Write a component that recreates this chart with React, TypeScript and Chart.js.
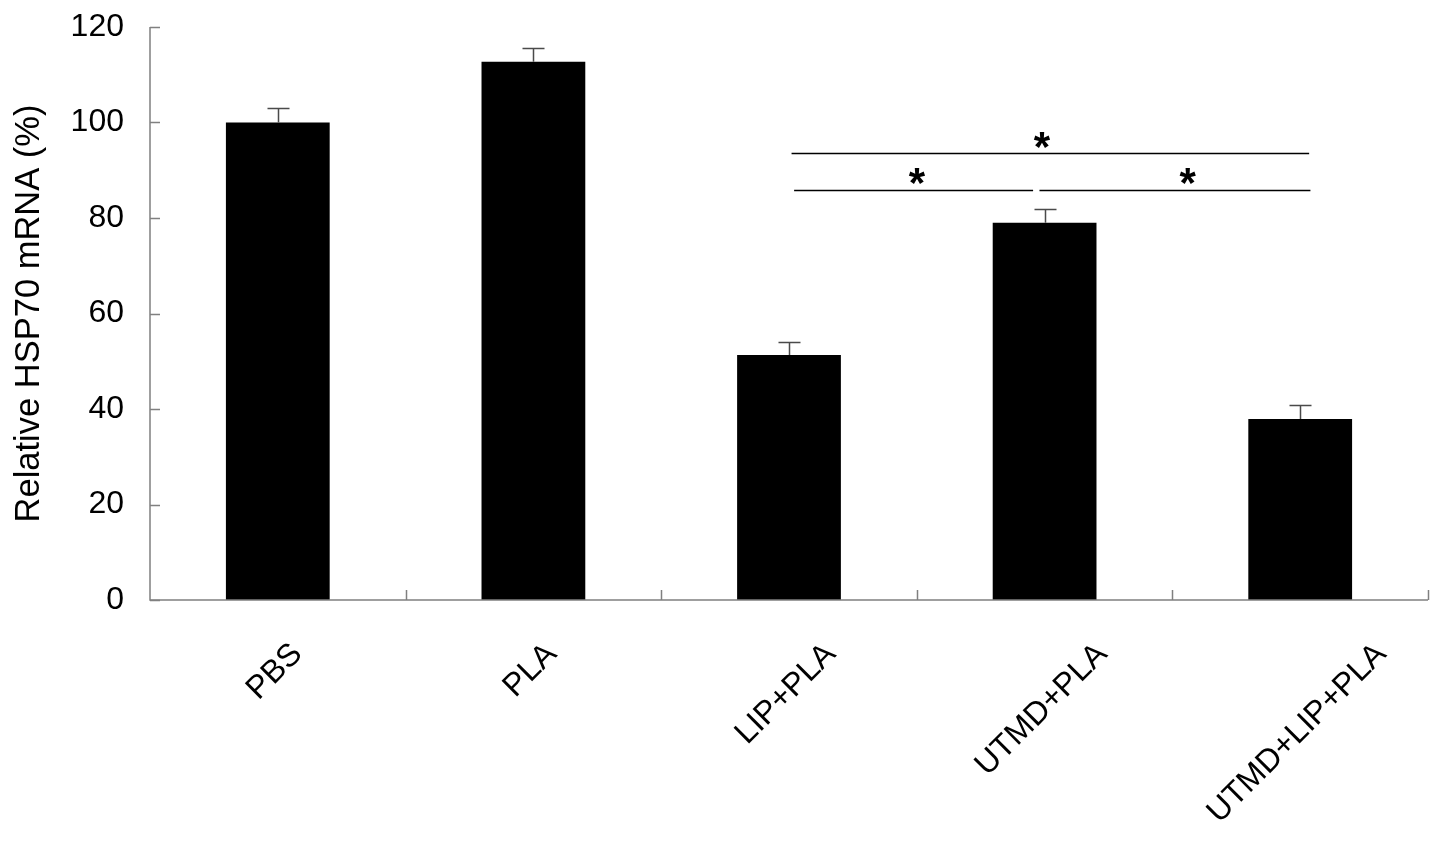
import React, { useEffect, useRef } from "react";
import { Chart, registerables } from "chart.js";

Chart.register(...registerables);

const categories = ["PBS", "PLA", "LIP+PLA", "UTMD+PLA", "UTMD+LIP+PLA"];
const meanValues = [100, 112.7, 51.3, 79.0, 37.9];
const errorValues = [3.0, 2.9, 2.8, 2.9, 2.9];
const yTicks = [0, 20, 40, 60, 80, 100, 120];
// significance brackets: from/to are category positions (fractional), y in data units
const bracketFrom = [2.01, 2.02, 2.98];
const bracketTo = [4.035, 2.955, 4.04];
const bracketY = [93.6, 85.9, 85.9];
const starX = [2.99, 2.5, 3.56];
const starY = [96.3, 88.7, 88.7];

const FONT = '"Liberation Sans", Arial, sans-serif';
const TICK_SIZE = 32;

export default function App() {
  const ref = useRef<HTMLCanvasElement | null>(null);

  useEffect(() => {
    if (!ref.current) return;

    const overlay = {
      id: "overlay",
      afterDraw(chart: any) {
        const ctx = chart.ctx;
        const x = chart.scales.x;
        const y = chart.scales.y;
        const area = chart.chartArea;
        ctx.save();
        // axes lines
        ctx.strokeStyle = "#808080";
        ctx.lineWidth = 1.5;
        ctx.beginPath();
        ctx.moveTo(area.left, area.top);
        ctx.lineTo(area.left, area.bottom);
        ctx.lineTo(area.right, area.bottom);
        ctx.stroke();
        // y ticks inward
        ctx.beginPath();
        yTicks.forEach((v) => {
          const py = Math.round(y.getPixelForValue(v)) + 0.5;
          ctx.moveTo(area.left, py);
          ctx.lineTo(area.left + 10, py);
        });
        // x ticks at category boundaries
        for (let i = 0; i < categories.length; i++) {
          const px = Math.round(x.getPixelForValue(i + 0.5)) + 0.5;
          ctx.moveTo(px, area.bottom);
          ctx.lineTo(px, area.bottom - 10);
        }
        ctx.stroke();

        // error bars
        ctx.strokeStyle = "#4a4a4a";
        ctx.lineWidth = 1.5;
        ctx.beginPath();
        meanValues.forEach((m, i) => {
          const px = Math.round(x.getPixelForValue(i)) + 0.5;
          const top = Math.round(y.getPixelForValue(m + errorValues[i])) + 0.5;
          const base = y.getPixelForValue(m);
          ctx.moveTo(px, base);
          ctx.lineTo(px, top);
          ctx.moveTo(px - 11, top);
          ctx.lineTo(px + 11, top);
        });
        ctx.stroke();

        // brackets
        ctx.strokeStyle = "#000";
        ctx.lineWidth = 1.5;
        ctx.beginPath();
        bracketY.forEach((v, i) => {
          const py = Math.round(y.getPixelForValue(v)) + 0.5;
          ctx.moveTo(x.getPixelForValue(bracketFrom[i]), py);
          ctx.lineTo(x.getPixelForValue(bracketTo[i]), py);
        });
        ctx.stroke();

        // stars
        ctx.fillStyle = "#000";
        ctx.font = `bold 42px ${FONT}`;
        ctx.textAlign = "center";
        ctx.textBaseline = "alphabetic";
        starX.forEach((sx, i) => {
          const m = ctx.measureText("*");
          const asc = m.actualBoundingBoxAscent;
          const desc = m.actualBoundingBoxDescent;
          const cy = y.getPixelForValue(starY[i]);
          ctx.fillText("*", x.getPixelForValue(sx), cy + (asc - desc) / 2);
        });

        // x labels rotated 45deg
        ctx.font = `32px ${FONT}`;
        ctx.textAlign = "center";
        ctx.textBaseline = "middle";
        const s = Math.SQRT1_2;
        categories.forEach((c, i) => {
          const w = ctx.measureText(c).width;
          const h = 32 * 0.72;
          const half = ((w + h) * s) / 2;
          const cx = x.getPixelForValue(i) - 3;
          const cy = area.bottom + 41 + half;
          ctx.save();
          ctx.translate(cx, cy);
          ctx.rotate(-Math.PI / 4);
          ctx.fillText(c, 0, 0);
          ctx.restore();
        });
        ctx.restore();
      },
    };

    const chart = new Chart(ref.current, {
      type: "bar",
      data: {
        labels: categories,
        datasets: [
          {
            data: meanValues,
            backgroundColor: "#000",
            borderWidth: 0,
            barPercentage: 0.406,
            categoryPercentage: 1,
          },
        ],
      },
      options: {
        animation: false,
        responsive: true,
        maintainAspectRatio: false,
        layout: { padding: { top: 27, right: 13, left: 0, bottom: 0 } },
        plugins: { legend: { display: false }, tooltip: { enabled: false } },
        scales: {
          x: {
            grid: { display: false, drawTicks: false },
            border: { display: false },
            ticks: { display: false },
            afterFit: (s: any) => {
              s.height = 253;
            },
          },
          y: {
            min: 0,
            max: 120,
            grid: { display: false, drawTicks: true, tickLength: 26 },
            border: { display: false },
            ticks: {
              stepSize: 20,
              padding: 0,
              color: "#000",
              font: { family: FONT, size: TICK_SIZE, lineHeight: 1.2 },
            },
            title: {
              display: true,
              text: "Relative HSP70 mRNA (%)",
              color: "#000",
              font: { family: FONT, size: 34.5, lineHeight: 1.2 },
              padding: { top: 9, bottom: 0 },
            },
            afterFit: (s: any) => {
              s.width = 150;
            },
          },
        },
      },
      plugins: [overlay],
    });
    return () => chart.destroy();
  }, []);

  return (
    <div style={{ position: "absolute", left: 0, top: 0, width: 1441, height: 853, background: "#fff" }}>
      <canvas ref={ref} />
    </div>
  );
}
